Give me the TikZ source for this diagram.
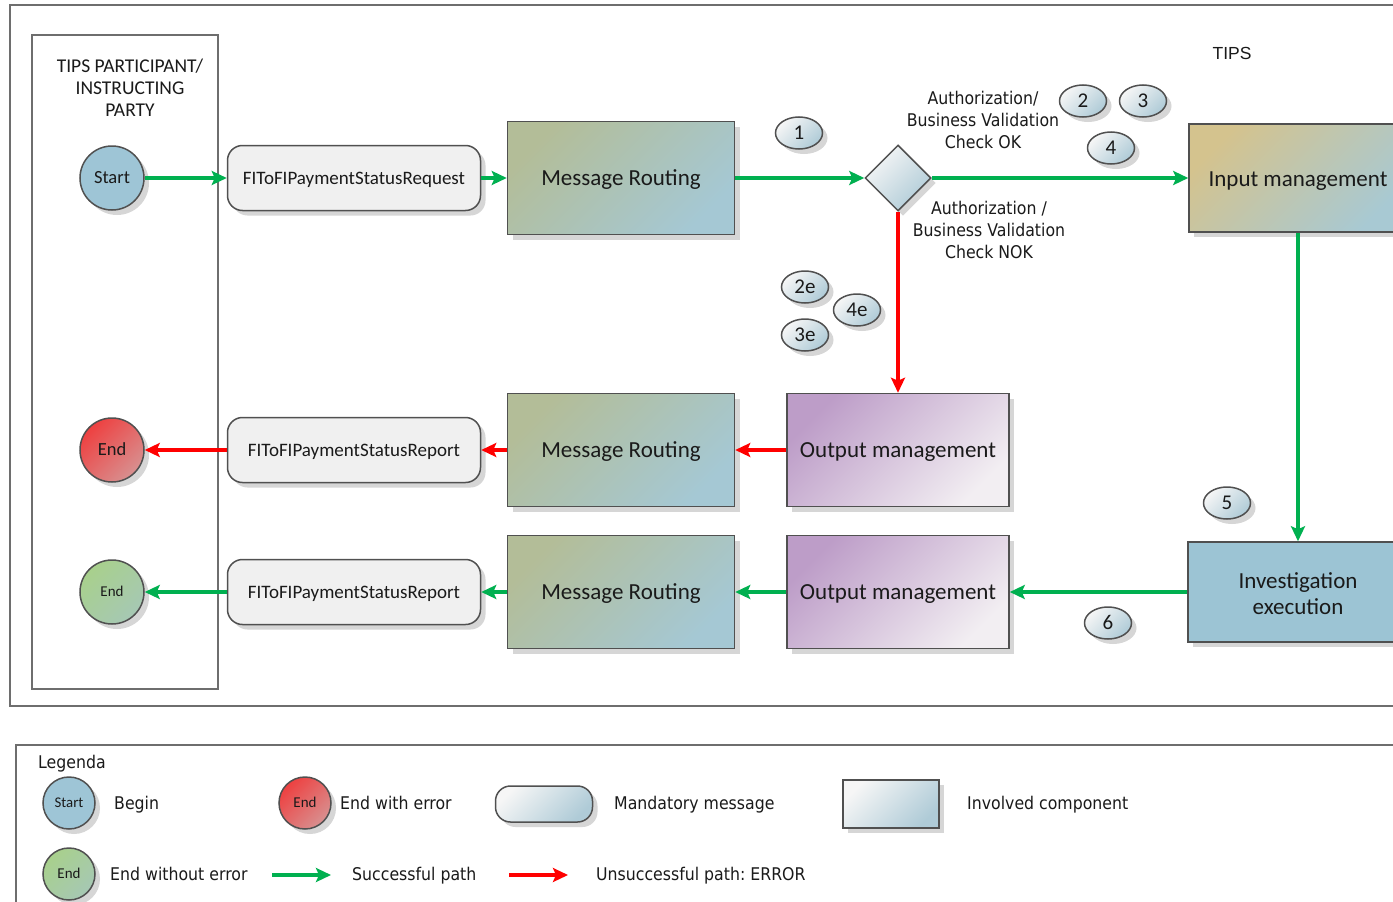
\documentclass[tikz,border=0pt]{standalone}
\usepackage{fontspec}
\setmainfont{Carlito}
\newfontfamily\lblfont[FakeStretch=0.9]{DejaVu Sans}
\newfontfamily\arialfont{Liberation Sans}
\usetikzlibrary{shapes.geometric,shadows,arrows.meta}
\frenchspacing
\definecolor{gr}{HTML}{00B050}
\definecolor{rd}{HTML}{FF0000}
\definecolor{boxline}{HTML}{505050}
\definecolor{framec}{HTML}{6E6E6E}
\definecolor{shadowc}{HTML}{D6D6D6}
\definecolor{mrA}{HTML}{B3BD98}
\definecolor{mrB}{HTML}{A5C8D4}
\definecolor{imA}{HTML}{D4C38E}
\definecolor{imB}{HTML}{A8C9D3}
\definecolor{omA}{HTML}{BD9DC8}
\definecolor{omB}{HTML}{F2EEF2}
\definecolor{invc}{HTML}{9CC4D4}
\definecolor{startc}{HTML}{9EC5D6}
\definecolor{endrA}{HTML}{EE4040}
\definecolor{endrB}{HTML}{D89090}
\definecolor{endgA}{HTML}{A8D08C}
\definecolor{endgB}{HTML}{A6C8B4}
\definecolor{pillc}{HTML}{F0F0F0}
\definecolor{gA}{HTML}{F6F6F6}
\definecolor{gB}{HTML}{AFCBD7}
\definecolor{txt}{HTML}{1A1A1A}
\tikzset{
  shad/.style={drop shadow={shadow xshift=5pt, shadow yshift=-5pt, fill=shadowc, opacity=1}},
  capc/.style={text height=#1, text depth=0pt},
  box/.style={rectangle, draw=boxline, line width=1.5pt, minimum width=227pt, minimum height=113pt,
    inner sep=0pt, text=txt, font=\fontsize{23}{26}\selectfont, shad},
  mrbox/.style={box, capc=14.7pt, top color=mrA, bottom color=mrB, shading angle=45},
  ombox/.style={box, capc=14.7pt, minimum width=222pt, top color=omA, bottom color=omB, shading angle=45},
  pill/.style={rectangle, rounded corners=15pt, draw=boxline, line width=1.5pt, fill=pillc, capc=12.2pt,
    minimum width=253pt, minimum height=65pt, inner sep=0pt, text=txt, font=\fontsize{19}{20}\selectfont, shad},
  circ/.style={circle, draw=boxline, line width=1.5pt, minimum size=64pt, inner sep=0pt, text=txt, shad},
  startnode/.style={circ, fill=startc},
  endred/.style={circ, top color=endrA, bottom color=endrB, shading angle=45},
  endgreen/.style={circ, top color=endgA, bottom color=endgB, shading angle=45},
  bubble/.style={ellipse, draw=boxline, line width=1.5pt, minimum width=47pt, minimum height=32pt,
    inner sep=0pt, top color=gA, bottom color=gB, shading angle=45, text=txt, capc=13.2pt,
    font=\fontsize{21}{22}\selectfont, shad},
  lbl/.style={text=txt, font=\lblfont\fontsize{17.5}{22}\selectfont, inner sep=0pt},
  lblone/.style={lbl, capc=12.8pt},
  framebox/.style={draw=framec, line width=1.5pt},
  garrow/.style={draw=gr, line width=3.2pt, -{Stealth[length=15pt,width=14pt,inset=3pt]}},
  rarrow/.style={draw=rd, line width=3.2pt, -{Stealth[length=15pt,width=14pt,inset=3pt]}},
}
\begin{document}
\begin{tikzpicture}[x=1pt,y=-1pt]
\useasboundingbox (0,0) rectangle (1393,902);
\clip (0,0) rectangle (1393,902);
\fill[white] (0,0) rectangle (1393,902);
% frames
\draw[framebox] (10,5) rectangle (1430,706);
\draw[framebox] (32,35) rectangle (218,689);
\draw[framebox] (16,745) rectangle (1430,930);
\node[text=txt, align=center, inner sep=0pt, font=\fontsize{19.5}{22}\selectfont] (party) at (130,88) {TIPS PARTICIPANT/\\INSTRUCTING\\PARTY};
\node[text=txt, inner sep=0pt, capc=12.5pt, font=\arialfont\fontsize{17.5}{20}\selectfont] (tips) at (1232,53) {TIPS};
% row 1
\node[startnode, capc=11.9pt, font=\fontsize{18.5}{20}\selectfont] (start) at (112,178) {Start};
\node[pill] (msg1) at (354,178) {FIToFIPaymentStatusRequest};
\node[mrbox] (mr1) at (621,178) {Message Routing};
\node[diamond, aspect=1, draw=boxline, line width=1.5pt, minimum width=66pt, minimum height=66pt,
  inner sep=0pt, top color=gA, bottom color=gB, shading angle=45, shad] (dia) at (898,178) {};
\node[box, minimum width=218pt, minimum height=108pt, top color=imA, bottom color=imB, shading angle=45] (im) at (1298,178) {};
\node[text=txt, inner sep=0pt, capc=14.7pt, font=\fontsize{23}{26}\selectfont] (imtext) at (1298,179) {Input management};
% row 2
\node[endred, capc=11.9pt, font=\fontsize{18.5}{20}\selectfont] (endr) at (112,450) {End};
\node[pill] (msg2) at (354,450) {FIToFIPaymentStatusReport};
\node[mrbox] (mr2) at (621,450) {Message Routing};
\node[ombox] (om1) at (898,450) {Output management};
% row 3
\node[endgreen, capc=9.7pt, font=\fontsize{15}{17}\selectfont] (endg) at (112,592) {End};
\node[pill] (msg3) at (354,592) {FIToFIPaymentStatusReport};
\node[mrbox] (mr3) at (621,592) {Message Routing};
\node[ombox] (om2) at (898,592) {Output management};
\node[box, minimum width=220pt, minimum height=100pt, fill=invc] (inv) at (1298,592) {};
\node[text=txt, align=center, inner sep=0pt, font=\fontsize{23}{26}\selectfont] (invtext) at (1298,594) {Investigation\\execution};
% labels
\node[lbl, align=center] (okl) at (983,120) {Authorization/\\Business Validation\\Check OK};
\node[lbl, align=center] (nokl) at (989,230) {Authorization /\\Business Validation\\Check NOK};
% bubbles
\node[bubble] (b1) at (799,133) {1};
\node[bubble] (b2) at (1083,101) {2};
\node[bubble] (b3) at (1143,101) {3};
\node[bubble] (b4) at (1111,148) {4};
\node[bubble] (b2e) at (805,287) {2e};
\node[bubble] (b4e) at (857,310) {4e};
\node[bubble] (b3e) at (805,335) {3e};
\node[bubble] (b5) at (1227,503) {5};
\node[bubble] (b6) at (1108,623) {6};
% connectors
\draw[garrow] (start) -- (msg1);
\draw[garrow] (msg1) -- (mr1);
\draw[garrow] (mr1) -- (dia);
\draw[garrow] (dia) -- (im);
\draw[rarrow] (dia) -- (om1);
\draw[garrow] (im) -- (inv);
\draw[garrow] (inv) -- (om2);
\draw[garrow] (om2) -- (mr3);
\draw[garrow] (mr3) -- (msg3);
\draw[garrow] (msg3) -- (endg);
\draw[rarrow] (om1) -- (mr2);
\draw[rarrow] (mr2) -- (msg2);
\draw[rarrow] (msg2) -- (endr);
% legend
\node[lblone, anchor=west] (legenda) at (38,762) {Legenda};
\node[startnode, minimum size=52pt, capc=9.5pt, font=\fontsize{14.8}{16}\selectfont] (lstart) at (69,803) {Start};
\node[lblone, anchor=west] (lbegin) at (114,803) {Begin};
\node[endred, minimum size=52pt, capc=9.7pt, font=\fontsize{15}{16}\selectfont] (lendr) at (305,803) {End};
\node[lblone, anchor=west] (lendrt) at (340,803) {End with error};
\node[rectangle, rounded corners=15pt, draw=boxline, line width=1.5pt, minimum width=97pt, minimum height=36pt,
  top color=gA, bottom color=gB, shading angle=45, shad] (lpill) at (544,804) {};
\node[lblone, anchor=west] (lpillt) at (614,803) {Mandatory message};
\node[rectangle, draw=boxline, line width=1.5pt, minimum width=96pt, minimum height=48pt,
  top color=gA, bottom color=gB, shading angle=45, shad] (lbox) at (891,804) {};
\node[lblone, anchor=west] (lboxt) at (967,803) {Involved component};
\node[endgreen, minimum size=52pt, capc=9.7pt, font=\fontsize{15}{16}\selectfont] (lendg) at (69,874) {End};
\node[lblone, anchor=west] (lendgt) at (110,874) {End without error};
\coordinate (ga1) at (272,875);
\coordinate (ga2) at (331,875);
\draw[garrow] (ga1) -- (ga2);
\node[lblone, anchor=west] (lsucc) at (352,874) {Successful path};
\coordinate (ra1) at (509,875);
\coordinate (ra2) at (568,875);
\draw[rarrow] (ra1) -- (ra2);
\node[lblone, anchor=west] (lfail) at (596,874) {Unsuccessful path: ERROR};
\end{tikzpicture}
\end{document}
